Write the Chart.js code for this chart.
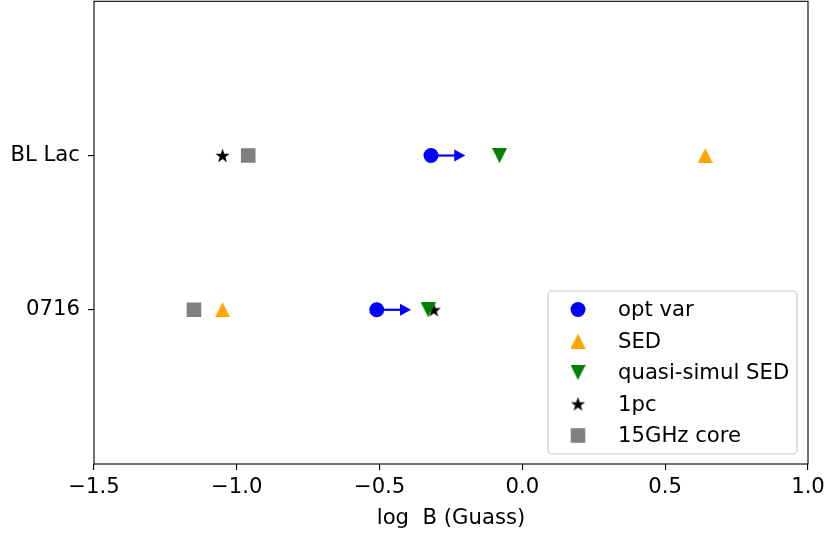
<!DOCTYPE html>
<html>
<head>
<meta charset="utf-8">
<script src="https://cdn.jsdelivr.net/npm/chart.js@4"></script>
<style>
  html, body { margin: 0; padding: 0; background: #fff; overflow: hidden; }
  #wrap { width: 825px; height: 544px; margin-top: -9px; }
</style>
</head>
<body>
<div id="wrap"><canvas id="bfield"></canvas></div>
<script>
// sources on the y axis (y = 1, 2)
const sources = ['0716', 'BL Lac'];
// log B values, one per source
const optVar = [-0.51, -0.32];
const optVarLimit = [-0.39, -0.20];   // arrow tips (lower limits)
const sed = [-1.05, 0.64];
const quasiSimulSed = [-0.33, -0.08];
const onePc = [-0.31, -1.05];
const core15GHz = [-1.15, -0.96];
const xTicks = [-1.5, -1.0, -0.5, 0.0, 0.5, 1.0];

const FONT = 'DejaVu Sans';
const FS = 21.2;

// marker images (centred on their bounding box, like matplotlib)
function makeMarker(size, color, path) {
    const c = document.createElement('canvas');
    c.width = size; c.height = size;
    const g = c.getContext('2d');
    g.beginPath();
    path(g, size);
    g.closePath();
    g.fillStyle = color;
    g.fill();
    return c;
}
const starImg = makeMarker(15, '#000000', (g, s) => {
    const cx = s / 2, cy = s / 2 + 0.6, R = s / 2, r = R * 0.4;
    for (let i = 0; i < 10; i++) {
        const a = -Math.PI / 2 + i * Math.PI / 5;
        const rr = i % 2 === 0 ? R : r;
        g.lineTo(cx + rr * Math.cos(a), cy + rr * Math.sin(a));
    }
});
const triUp = makeMarker(15, '#ffa500', (g, s) => {
    g.moveTo(s / 2, 0); g.lineTo(s, s); g.lineTo(0, s);
});
const triDown = makeMarker(15, '#008000', (g, s) => {
    g.moveTo(0, 0); g.lineTo(s, 0); g.lineTo(s / 2, s);
});

const pts = vals => vals.map((v, i) => ({x: v, y: i + 1}));

const series = [
    {label: 'opt var', data: pts(optVar), color: '#0000ff', pointStyle: 'circle', radius: 7.5},
    {label: 'SED', data: pts(sed), color: '#ffa500', pointStyle: triUp, radius: 7.5},
    {label: 'quasi-simul SED', data: pts(quasiSimulSed), color: '#008000', pointStyle: triDown, radius: 7.5},
    {label: '1pc', data: pts(onePc), color: '#000000', pointStyle: starImg, radius: 7.5},
    {label: '15GHz core', data: pts(core15GHz), color: '#808080', pointStyle: 'rect', radius: 10.3}
];

const minus = v => (v < 0 ? '\u2212' : '') + Math.abs(v).toFixed(1);

// arrows for lower limits
const arrowPlugin = {
    id: 'arrows',
    afterDatasetsDraw(chart) {
        const {ctx, scales: {x, y}} = chart;
        ctx.save();
        ctx.strokeStyle = '#0000ff';
        ctx.fillStyle = '#0000ff';
        ctx.lineWidth = 2.2;
        optVar.forEach((v, i) => {
            const x0 = x.getPixelForValue(v);
            const x1 = x.getPixelForValue(optVarLimit[i]);
            const py = y.getPixelForValue(i + 1);
            ctx.beginPath();
            ctx.moveTo(x0, py);
            ctx.lineTo(x1 - 9, py);
            ctx.stroke();
            ctx.beginPath();
            ctx.moveTo(x1, py);
            ctx.lineTo(x1 - 11, py - 6);
            ctx.lineTo(x1 - 11, py + 6);
            ctx.closePath();
            ctx.fill();
        });
        ctx.restore();
    }
};

// box around the axes + legend in the lower right
const framePlugin = {
    id: 'frame',
    afterDraw(chart) {
        const {ctx, chartArea: a} = chart;
        ctx.save();
        ctx.strokeStyle = '#000';
        ctx.lineWidth = 1.1;
        ctx.strokeRect(a.left, a.top, a.right - a.left, a.bottom - a.top);

        const w = 249, h = 163;
        const bx = a.right - 11 - w, by = a.bottom - 10 - h;
        ctx.beginPath();
        ctx.roundRect(bx, by, w, h, 4);
        ctx.fillStyle = 'rgba(255,255,255,0.8)';
        ctx.fill();
        ctx.strokeStyle = '#cccccc';
        ctx.lineWidth = 1.2;
        ctx.stroke();

        ctx.font = FS + 'px "' + FONT + '"';
        ctx.textBaseline = 'middle';
        series.forEach((s, i) => {
            const ry = by + 18.5 + i * 31.5;
            ctx.fillStyle = s.color;
            ctx.strokeStyle = s.color;
            Chart.helpers.drawPoint(ctx, {pointStyle: s.pointStyle, radius: s.radius, rotation: 0, borderWidth: 0}, bx + 30, ry);
            ctx.fillStyle = '#000';
            ctx.fillText(s.label, bx + 70, ry + 1);
        });
        ctx.restore();
    }
};

new Chart(document.getElementById('bfield'), {
    type: 'scatter',
    data: {
        datasets: series.map(s => ({
            label: s.label,
            data: s.data,
            backgroundColor: s.color,
            borderColor: s.color,
            borderWidth: 0,
            pointStyle: s.pointStyle,
            pointRadius: s.radius
        }))
    },
    options: {
        responsive: true,
        maintainAspectRatio: false,
        animation: false,
        layout: {padding: {top: 1, right: 17, left: 0, bottom: 0}},
        plugins: {legend: {display: false}, tooltip: {enabled: false}},
        scales: {
            x: {
                type: 'linear',
                min: -1.5,
                max: 1.0,
                afterBuildTicks: scale => { scale.ticks = xTicks.map(v => ({value: v})); },
                afterFit: scale => { scale.height = 71; scale.paddingLeft = 0; scale.paddingRight = 0; },
                ticks: {
                    callback: v => minus(v),
                    color: '#000',
                    font: {family: FONT, size: FS},
                    padding: 5,
                    maxRotation: 0
                },
                grid: {drawOnChartArea: false, drawTicks: true, tickLength: 6, color: '#000', lineWidth: 1.1},
                border: {display: false},
                title: {
                    display: true,
                    text: 'log  B (Guass)',
                    color: '#000',
                    font: {family: FONT, size: FS},
                    padding: {top: 2, bottom: 4}
                }
            },
            y: {
                type: 'linear',
                min: 0,
                max: 3,
                afterBuildTicks: scale => { scale.ticks = sources.map((s, i) => ({value: i + 1})); },
                afterFit: scale => { scale.width = 94; scale.paddingTop = 0; scale.paddingBottom = 0; },
                ticks: {
                    callback: v => sources[v - 1] || '',
                    color: '#000',
                    font: {family: FONT, size: FS},
                    padding: 8
                },
                grid: {drawOnChartArea: false, drawTicks: true, tickLength: 6, color: '#000', lineWidth: 1.1},
                border: {display: false}
            }
        }
    },
    plugins: [arrowPlugin, framePlugin]
});
</script>
</body>
</html>
